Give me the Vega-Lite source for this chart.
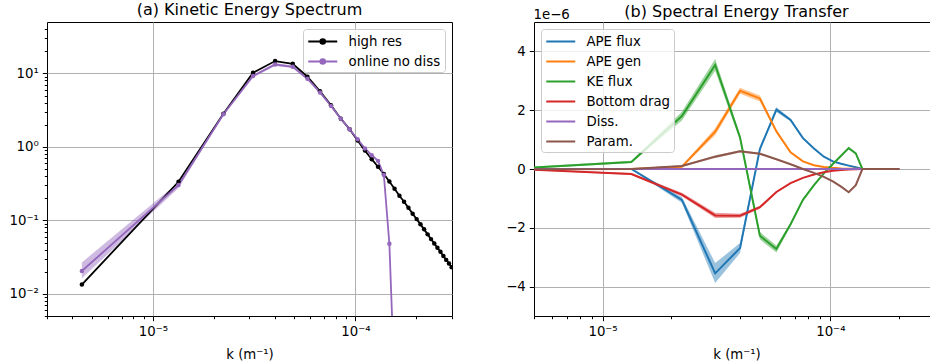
{
  "$schema": "https://vega.github.io/schema/vega-lite/v6.json",
  "padding": {"left": 8, "top": 1, "right": 0, "bottom": 0},
  "spacing": 52,
  "resolve": {"scale": {"color": "independent", "fill": "independent"}, "legend": {"color": "independent"}},
  "datasets": {
    "ke": [
      {"run":"high res","k":4.46e-6,"E":0.0134},
      {"run":"high res","k":1.338e-5,"E":0.335},
      {"run":"high res","k":2.23e-5,"E":2.83},
      {"run":"high res","k":3.122e-5,"E":10.2},
      {"run":"high res","k":4.014e-5,"E":14.7},
      {"run":"high res","k":4.906e-5,"E":13.5},
      {"run":"high res","k":5.798e-5,"E":9.0},
      {"run":"high res","k":6.69e-5,"E":5.7},
      {"run":"high res","k":7.582e-5,"E":3.68},
      {"run":"high res","k":8.474e-5,"E":2.42},
      {"run":"high res","k":9.366e-5,"E":1.74},
      {"run":"high res","k":1.0258e-4,"E":1.22},
      {"run":"high res","k":1.115e-4,"E":0.89},
      {"run":"high res","k":1.2042e-4,"E":0.68},
      {"run":"high res","k":1.2934e-4,"E":0.536},
      {"run":"high res","k":1.3826e-4,"E":0.427},
      {"run":"high res","k":1.4718e-4,"E":0.337},
      {"run":"high res","k":1.561e-4,"E":0.269},
      {"run":"high res","k":1.6502e-4,"E":0.216},
      {"run":"high res","k":1.7394e-4,"E":0.179},
      {"run":"high res","k":1.8286e-4,"E":0.148},
      {"run":"high res","k":1.9178e-4,"E":0.123},
      {"run":"high res","k":2.007e-4,"E":0.104},
      {"run":"high res","k":2.0962e-4,"E":0.0883},
      {"run":"high res","k":2.1854e-4,"E":0.0755},
      {"run":"high res","k":2.2746e-4,"E":0.0645},
      {"run":"high res","k":2.3638e-4,"E":0.0556},
      {"run":"high res","k":2.453e-4,"E":0.0484},
      {"run":"high res","k":2.5422e-4,"E":0.0425},
      {"run":"high res","k":2.6314e-4,"E":0.0373},
      {"run":"high res","k":2.7206e-4,"E":0.0327},
      {"run":"high res","k":2.8098e-4,"E":0.029},
      {"run":"high res","k":2.899e-4,"E":0.0259},
      {"run":"high res","k":2.9882e-4,"E":0.0231},
      {"run":"high res","k":3.0774e-4,"E":0.0207},
      {"run":"online no diss","k":4.46e-6,"E":0.0205,"lo":0.0163,"hi":0.0268},
      {"run":"online no diss","k":1.338e-5,"E":0.302,"lo":0.275,"hi":0.33},
      {"run":"online no diss","k":2.23e-5,"E":2.78,"lo":2.68,"hi":2.9},
      {"run":"online no diss","k":3.122e-5,"E":9.2,"lo":8.8,"hi":9.6},
      {"run":"online no diss","k":4.014e-5,"E":13.2,"lo":12.6,"hi":13.8},
      {"run":"online no diss","k":4.906e-5,"E":12.3,"lo":11.8,"hi":12.8},
      {"run":"online no diss","k":5.798e-5,"E":8.45,"lo":8.1,"hi":8.8},
      {"run":"online no diss","k":6.69e-5,"E":5.5,"lo":5.3,"hi":5.7},
      {"run":"online no diss","k":7.582e-5,"E":3.6,"lo":3.48,"hi":3.72},
      {"run":"online no diss","k":8.474e-5,"E":2.42,"lo":2.35,"hi":2.5},
      {"run":"online no diss","k":9.366e-5,"E":1.74,"lo":1.69,"hi":1.79},
      {"run":"online no diss","k":1.0258e-4,"E":1.27,"lo":1.23,"hi":1.31},
      {"run":"online no diss","k":1.115e-4,"E":0.95,"lo":0.92,"hi":0.98},
      {"run":"online no diss","k":1.2042e-4,"E":0.77,"lo":0.745,"hi":0.795},
      {"run":"online no diss","k":1.2934e-4,"E":0.645,"lo":0.625,"hi":0.665},
      {"run":"online no diss","k":1.3826e-4,"E":0.413,"lo":0.4,"hi":0.426},
      {"run":"online no diss","k":1.4718e-4,"E":0.048,"lo":0.046,"hi":0.05},
      {"run":"online no diss","k":1.561e-4,"E":0.0006,"lo":0.00055,"hi":0.00065}
    ],
    "tr": [
      {"s":"APE flux","k":4.46e-6,"v":0,"lo":-0.01,"hi":0.01},
      {"s":"APE flux","k":1.338e-5,"v":0,"lo":-0.02,"hi":0.02},
      {"s":"APE flux","k":2.23e-5,"v":-1.05,"lo":-1.15,"hi":-0.95},
      {"s":"APE flux","k":3.122e-5,"v":-3.55,"lo":-3.88,"hi":-3.2},
      {"s":"APE flux","k":4.014e-5,"v":-2.69,"lo":-2.86,"hi":-2.52},
      {"s":"APE flux","k":4.906e-5,"v":0.68,"lo":0.62,"hi":0.74},
      {"s":"APE flux","k":5.798e-5,"v":2.02,"lo":1.94,"hi":2.1},
      {"s":"APE flux","k":6.69e-5,"v":1.67,"lo":1.62,"hi":1.72},
      {"s":"APE flux","k":7.582e-5,"v":1.05,"lo":1.02,"hi":1.08},
      {"s":"APE flux","k":8.474e-5,"v":0.7,"lo":0.68,"hi":0.72},
      {"s":"APE flux","k":9.366e-5,"v":0.42,"lo":0.41,"hi":0.43},
      {"s":"APE flux","k":1.0258e-4,"v":0.26,"lo":0.25,"hi":0.27},
      {"s":"APE flux","k":1.115e-4,"v":0.18,"lo":0.17,"hi":0.19},
      {"s":"APE flux","k":1.2042e-4,"v":0.115,"lo":0.11,"hi":0.12},
      {"s":"APE flux","k":1.2934e-4,"v":0.06,"lo":0.055,"hi":0.065},
      {"s":"APE flux","k":1.3826e-4,"v":0,"lo":0,"hi":0},
      {"s":"APE flux","k":1.4718e-4,"v":0,"lo":0,"hi":0},
      {"s":"APE flux","k":1.561e-4,"v":0,"lo":0,"hi":0},
      {"s":"APE flux","k":1.6502e-4,"v":0,"lo":0,"hi":0},
      {"s":"APE flux","k":1.7394e-4,"v":0,"lo":0,"hi":0},
      {"s":"APE flux","k":1.8286e-4,"v":0,"lo":0,"hi":0},
      {"s":"APE flux","k":1.9178e-4,"v":0,"lo":0,"hi":0},
      {"s":"APE flux","k":2.007e-4,"v":0,"lo":0,"hi":0},
      {"s":"APE gen","k":4.46e-6,"v":0,"lo":-0.01,"hi":0.01},
      {"s":"APE gen","k":1.338e-5,"v":0,"lo":-0.01,"hi":0.01},
      {"s":"APE gen","k":2.23e-5,"v":0.08,"lo":0.05,"hi":0.11},
      {"s":"APE gen","k":3.122e-5,"v":1.27,"lo":1.15,"hi":1.39},
      {"s":"APE gen","k":4.014e-5,"v":2.66,"lo":2.56,"hi":2.76},
      {"s":"APE gen","k":4.906e-5,"v":2.4,"lo":2.3,"hi":2.5},
      {"s":"APE gen","k":5.798e-5,"v":1.28,"lo":1.23,"hi":1.33},
      {"s":"APE gen","k":6.69e-5,"v":0.57,"lo":0.55,"hi":0.59},
      {"s":"APE gen","k":7.582e-5,"v":0.26,"lo":0.25,"hi":0.27},
      {"s":"APE gen","k":8.474e-5,"v":0.13,"lo":0.125,"hi":0.135},
      {"s":"APE gen","k":9.366e-5,"v":0.07,"lo":0.065,"hi":0.075},
      {"s":"APE gen","k":1.0258e-4,"v":0.04,"lo":0.035,"hi":0.045},
      {"s":"APE gen","k":1.115e-4,"v":0.02,"lo":0.018,"hi":0.022},
      {"s":"APE gen","k":1.2042e-4,"v":0.01,"lo":0.009,"hi":0.011},
      {"s":"APE gen","k":1.2934e-4,"v":0.005,"lo":0.004,"hi":0.006},
      {"s":"APE gen","k":1.3826e-4,"v":0,"lo":0,"hi":0},
      {"s":"APE gen","k":1.4718e-4,"v":0,"lo":0,"hi":0},
      {"s":"APE gen","k":1.561e-4,"v":0,"lo":0,"hi":0},
      {"s":"APE gen","k":1.6502e-4,"v":0,"lo":0,"hi":0},
      {"s":"APE gen","k":1.7394e-4,"v":0,"lo":0,"hi":0},
      {"s":"APE gen","k":1.8286e-4,"v":0,"lo":0,"hi":0},
      {"s":"APE gen","k":1.9178e-4,"v":0,"lo":0,"hi":0},
      {"s":"APE gen","k":2.007e-4,"v":0,"lo":0,"hi":0},
      {"s":"KE flux","k":4.46e-6,"v":0.03,"lo":0.0,"hi":0.06},
      {"s":"KE flux","k":1.338e-5,"v":0.24,"lo":0.2,"hi":0.28},
      {"s":"KE flux","k":2.23e-5,"v":1.8,"lo":1.65,"hi":1.95},
      {"s":"KE flux","k":3.122e-5,"v":3.54,"lo":3.34,"hi":3.74},
      {"s":"KE flux","k":4.014e-5,"v":1.07,"lo":0.97,"hi":1.17},
      {"s":"KE flux","k":4.906e-5,"v":-2.27,"lo":-2.4,"hi":-2.14},
      {"s":"KE flux","k":5.798e-5,"v":-2.72,"lo":-2.84,"hi":-2.6},
      {"s":"KE flux","k":6.69e-5,"v":-1.88,"lo":-1.94,"hi":-1.82},
      {"s":"KE flux","k":7.582e-5,"v":-1.05,"lo":-1.09,"hi":-1.01},
      {"s":"KE flux","k":8.474e-5,"v":-0.55,"lo":-0.58,"hi":-0.52},
      {"s":"KE flux","k":9.366e-5,"v":-0.15,"lo":-0.17,"hi":-0.13},
      {"s":"KE flux","k":1.0258e-4,"v":0.17,"lo":0.15,"hi":0.19},
      {"s":"KE flux","k":1.115e-4,"v":0.45,"lo":0.43,"hi":0.47},
      {"s":"KE flux","k":1.2042e-4,"v":0.71,"lo":0.69,"hi":0.73},
      {"s":"KE flux","k":1.2934e-4,"v":0.53,"lo":0.51,"hi":0.55},
      {"s":"KE flux","k":1.3826e-4,"v":0,"lo":0,"hi":0},
      {"s":"KE flux","k":1.4718e-4,"v":0,"lo":0,"hi":0},
      {"s":"KE flux","k":1.561e-4,"v":0,"lo":0,"hi":0},
      {"s":"KE flux","k":1.6502e-4,"v":0,"lo":0,"hi":0},
      {"s":"KE flux","k":1.7394e-4,"v":0,"lo":0,"hi":0},
      {"s":"KE flux","k":1.8286e-4,"v":0,"lo":0,"hi":0},
      {"s":"KE flux","k":1.9178e-4,"v":0,"lo":0,"hi":0},
      {"s":"KE flux","k":2.007e-4,"v":0,"lo":0,"hi":0},
      {"s":"Bottom drag","k":4.46e-6,"v":-0.01,"lo":-0.02,"hi":0.0},
      {"s":"Bottom drag","k":1.338e-5,"v":-0.17,"lo":-0.2,"hi":-0.14},
      {"s":"Bottom drag","k":2.23e-5,"v":-0.87,"lo":-0.93,"hi":-0.81},
      {"s":"Bottom drag","k":3.122e-5,"v":-1.58,"lo":-1.67,"hi":-1.49},
      {"s":"Bottom drag","k":4.014e-5,"v":-1.59,"lo":-1.66,"hi":-1.52},
      {"s":"Bottom drag","k":4.906e-5,"v":-1.3,"lo":-1.35,"hi":-1.25},
      {"s":"Bottom drag","k":5.798e-5,"v":-0.78,"lo":-0.81,"hi":-0.75},
      {"s":"Bottom drag","k":6.69e-5,"v":-0.48,"lo":-0.5,"hi":-0.46},
      {"s":"Bottom drag","k":7.582e-5,"v":-0.3,"lo":-0.31,"hi":-0.29},
      {"s":"Bottom drag","k":8.474e-5,"v":-0.19,"lo":-0.2,"hi":-0.18},
      {"s":"Bottom drag","k":9.366e-5,"v":-0.11,"lo":-0.115,"hi":-0.105},
      {"s":"Bottom drag","k":1.0258e-4,"v":-0.06,"lo":-0.065,"hi":-0.055},
      {"s":"Bottom drag","k":1.115e-4,"v":-0.03,"lo":-0.033,"hi":-0.027},
      {"s":"Bottom drag","k":1.2042e-4,"v":-0.015,"lo":-0.017,"hi":-0.013},
      {"s":"Bottom drag","k":1.2934e-4,"v":-0.005,"lo":-0.006,"hi":-0.004},
      {"s":"Bottom drag","k":1.3826e-4,"v":0,"lo":0,"hi":0},
      {"s":"Bottom drag","k":1.4718e-4,"v":0,"lo":0,"hi":0},
      {"s":"Bottom drag","k":1.561e-4,"v":0,"lo":0,"hi":0},
      {"s":"Bottom drag","k":1.6502e-4,"v":0,"lo":0,"hi":0},
      {"s":"Bottom drag","k":1.7394e-4,"v":0,"lo":0,"hi":0},
      {"s":"Bottom drag","k":1.8286e-4,"v":0,"lo":0,"hi":0},
      {"s":"Bottom drag","k":1.9178e-4,"v":0,"lo":0,"hi":0},
      {"s":"Bottom drag","k":2.007e-4,"v":0,"lo":0,"hi":0},
      {"s":"Diss.","k":4.46e-6,"v":0,"lo":0,"hi":0},
      {"s":"Diss.","k":1.338e-5,"v":0,"lo":0,"hi":0},
      {"s":"Diss.","k":2.23e-5,"v":0,"lo":0,"hi":0},
      {"s":"Diss.","k":3.122e-5,"v":0,"lo":0,"hi":0},
      {"s":"Diss.","k":4.014e-5,"v":0,"lo":0,"hi":0},
      {"s":"Diss.","k":4.906e-5,"v":0,"lo":0,"hi":0},
      {"s":"Diss.","k":5.798e-5,"v":0,"lo":0,"hi":0},
      {"s":"Diss.","k":6.69e-5,"v":0,"lo":0,"hi":0},
      {"s":"Diss.","k":7.582e-5,"v":0,"lo":0,"hi":0},
      {"s":"Diss.","k":8.474e-5,"v":0,"lo":0,"hi":0},
      {"s":"Diss.","k":9.366e-5,"v":0,"lo":0,"hi":0},
      {"s":"Diss.","k":1.0258e-4,"v":0,"lo":0,"hi":0},
      {"s":"Diss.","k":1.115e-4,"v":0,"lo":0,"hi":0},
      {"s":"Diss.","k":1.2042e-4,"v":0,"lo":0,"hi":0},
      {"s":"Diss.","k":1.2934e-4,"v":0,"lo":0,"hi":0},
      {"s":"Diss.","k":1.3826e-4,"v":0,"lo":0,"hi":0},
      {"s":"Diss.","k":1.4718e-4,"v":0,"lo":0,"hi":0},
      {"s":"Diss.","k":1.561e-4,"v":0,"lo":0,"hi":0},
      {"s":"Diss.","k":1.6502e-4,"v":0,"lo":0,"hi":0},
      {"s":"Diss.","k":1.7394e-4,"v":0,"lo":0,"hi":0},
      {"s":"Diss.","k":1.8286e-4,"v":0,"lo":0,"hi":0},
      {"s":"Diss.","k":1.9178e-4,"v":0,"lo":0,"hi":0},
      {"s":"Diss.","k":2.007e-4,"v":0,"lo":0,"hi":0},
      {"s":"Param.","k":4.46e-6,"v":-0.01,"lo":-0.02,"hi":0.0},
      {"s":"Param.","k":1.338e-5,"v":0,"lo":-0.01,"hi":0.01},
      {"s":"Param.","k":2.23e-5,"v":0.1,"lo":0.07,"hi":0.13},
      {"s":"Param.","k":3.122e-5,"v":0.42,"lo":0.37,"hi":0.47},
      {"s":"Param.","k":4.014e-5,"v":0.6,"lo":0.56,"hi":0.64},
      {"s":"Param.","k":4.906e-5,"v":0.52,"lo":0.49,"hi":0.55},
      {"s":"Param.","k":5.798e-5,"v":0.33,"lo":0.31,"hi":0.35},
      {"s":"Param.","k":6.69e-5,"v":0.16,"lo":0.15,"hi":0.17},
      {"s":"Param.","k":7.582e-5,"v":0.0,"lo":-0.01,"hi":0.01},
      {"s":"Param.","k":8.474e-5,"v":-0.13,"lo":-0.14,"hi":-0.12},
      {"s":"Param.","k":9.366e-5,"v":-0.27,"lo":-0.28,"hi":-0.26},
      {"s":"Param.","k":1.0258e-4,"v":-0.42,"lo":-0.43,"hi":-0.41},
      {"s":"Param.","k":1.115e-4,"v":-0.6,"lo":-0.61,"hi":-0.59},
      {"s":"Param.","k":1.2042e-4,"v":-0.79,"lo":-0.8,"hi":-0.78},
      {"s":"Param.","k":1.2934e-4,"v":-0.55,"lo":-0.56,"hi":-0.54},
      {"s":"Param.","k":1.3826e-4,"v":0,"lo":0,"hi":0},
      {"s":"Param.","k":1.4718e-4,"v":0,"lo":0,"hi":0},
      {"s":"Param.","k":1.561e-4,"v":0,"lo":0,"hi":0},
      {"s":"Param.","k":1.6502e-4,"v":0,"lo":0,"hi":0},
      {"s":"Param.","k":1.7394e-4,"v":0,"lo":0,"hi":0},
      {"s":"Param.","k":1.8286e-4,"v":0,"lo":0,"hi":0},
      {"s":"Param.","k":1.9178e-4,"v":0,"lo":0,"hi":0},
      {"s":"Param.","k":2.007e-4,"v":0,"lo":0,"hi":0}
    ]
  },
  "hconcat": [
    {
      "width": 405,
      "height": 294,
      "title": {"text": "(a) Kinetic Energy Spectrum", "frame": "group", "offset": 3.7},
      "layer": [
        {
          "data": {"name": "ke"},
          "transform": [{"filter": "datum.run == 'online no diss'"}],
          "mark": {"type": "area", "opacity": 0.45, "clip": true, "color": "#9467bd"},
          "encoding": {
            "x": {"field": "k", "type": "quantitative", "scale": {"type": "log", "domain": [3e-6, 3e-4], "nice": false},
              "axis": {"title": "k (m⁻¹)", "values": [3e-6,4e-6,5e-6,6e-6,7e-6,8e-6,9e-6,1e-5,2e-5,3e-5,4e-5,5e-5,6e-5,7e-5,8e-5,9e-5,1e-4,2e-4,3e-4],
                "labelExpr": "abs(log(datum.value)/LN10 - round(log(datum.value)/LN10)) < 0.001 ? ['10⁻⁵','10⁻⁴'][round(log(datum.value)/LN10)+5] : ''",
                "tickSize": {"condition": {"test": "abs(log(datum.value)/LN10 - round(log(datum.value)/LN10)) < 0.001", "value": 4.7}, "value": 2.7},
                "gridOpacity": {"condition": {"test": "abs(log(datum.value)/LN10 - round(log(datum.value)/LN10)) < 0.001", "value": 1}, "value": 0}}},
            "y": {"field": "lo", "type": "quantitative", "scale": {"type": "log", "domain": [0.005, 50], "nice": false},
              "axis": {"title": null, "values": [0.005,0.006,0.007,0.008,0.009,0.01,0.02,0.03,0.04,0.05,0.06,0.07,0.08,0.09,0.1,0.2,0.3,0.4,0.5,0.6,0.7,0.8,0.9,1,2,3,4,5,6,7,8,9,10,20,30,40],
                "labelExpr": "abs(log(datum.value)/LN10 - round(log(datum.value)/LN10)) < 0.001 ? ['10⁻²','10⁻¹','10⁰','10¹'][round(log(datum.value)/LN10)+2] : ''",
                "tickSize": {"condition": {"test": "abs(log(datum.value)/LN10 - round(log(datum.value)/LN10)) < 0.001", "value": 4.7}, "value": 2.7},
                "gridOpacity": {"condition": {"test": "abs(log(datum.value)/LN10 - round(log(datum.value)/LN10)) < 0.001", "value": 1}, "value": 0}}},
            "y2": {"field": "hi"}
          }
        },
        {
          "data": {"name": "ke"},
          "mark": {"type": "line", "strokeWidth": 1.8, "clip": true, "point": {"filled": true, "size": 20, "clip": true}},
          "encoding": {
            "x": {"field": "k", "type": "quantitative"},
            "y": {"field": "E", "type": "quantitative"},
            "color": {"field": "run", "type": "nominal", "scale": {"domain": ["high res", "online no diss"], "range": ["#000000", "#9467bd"]},
              "legend": {"title": null, "orient": "top-right", "offset": 7,
                "symbolType": "M-1,0L3,0M1.32,0A0.32,0.32,0,1,1,0.68,0A0.32,0.32,0,1,1,1.32,0Z",
                "symbolSize": 210, "symbolStrokeWidth": 2, "labelOffset": 24.5, "rowPadding": 5,
                "encode": {"symbols": {"update": {"fill": {"signal": "datum.value == 'high res' ? '#000000' : '#9467bd'"}, "stroke": {"signal": "datum.value == 'high res' ? '#000000' : '#9467bd'"}, "opacity": {"value": 1}}}}}}
          }
        }
      ]
    },
    {
      "width": 405,
      "height": 294,
      "title": {"text": "(b) Spectral Energy Transfer", "frame": "group", "offset": -13.3},
      "layer": [
        {
          "data": {"name": "tr"},
          "mark": {"type": "area", "opacity": 0.45, "clip": true},
          "encoding": {
            "x": {"field": "k", "type": "quantitative", "scale": {"type": "log", "domain": [5e-6, 3e-4], "nice": false},
              "axis": {"title": "k (m⁻¹)", "values": [5e-6,6e-6,7e-6,8e-6,9e-6,1e-5,2e-5,3e-5,4e-5,5e-5,6e-5,7e-5,8e-5,9e-5,1e-4,2e-4,3e-4],
                "labelExpr": "abs(log(datum.value)/LN10 - round(log(datum.value)/LN10)) < 0.001 ? ['10⁻⁵','10⁻⁴'][round(log(datum.value)/LN10)+5] : ''",
                "tickSize": {"condition": {"test": "abs(log(datum.value)/LN10 - round(log(datum.value)/LN10)) < 0.001", "value": 4.7}, "value": 2.7},
                "gridOpacity": {"condition": {"test": "abs(log(datum.value)/LN10 - round(log(datum.value)/LN10)) < 0.001", "value": 1}, "value": 0}}},
            "y": {"field": "lo", "type": "quantitative", "scale": {"domain": [-5, 5], "nice": false, "zero": false},
              "axis": {"values": [-4, -2, 0, 2, 4], "title": "1e−6", "titleAngle": 0, "titleAlign": "left", "titleBaseline": "alphabetic", "titleX": -1, "titleY": -4}},
            "y2": {"field": "hi"},
            "fill": {"field": "s", "type": "nominal", "legend": null,
              "scale": {"domain": ["Param.", "Diss.", "Bottom drag", "KE flux", "APE gen", "APE flux"], "range": ["#8c564b", "#9467bd", "#d62728", "#2ca02c", "#ff7f0e", "#1f77b4"]}}
          }
        },
        {
          "data": {"name": "tr"},
          "mark": {"type": "line", "strokeWidth": 2, "clip": true},
          "encoding": {
            "x": {"field": "k", "type": "quantitative"},
            "y": {"field": "v", "type": "quantitative"},
            "color": {"field": "s", "type": "nominal",
              "scale": {"domain": ["APE flux", "APE gen", "KE flux", "Bottom drag", "Diss.", "Param."], "range": ["#1f77b4", "#ff7f0e", "#2ca02c", "#d62728", "#9467bd", "#8c564b"]},
              "legend": {"title": null, "orient": "top-left", "offset": 7, "symbolType": "M-1,0L3,0", "symbolSize": 210, "symbolStrokeWidth": 2, "labelOffset": 24.5, "rowPadding": 5}}
          }
        }
      ]
    }
  ],
  "config": {
    "font": "DejaVu Sans",
    "view": {"stroke": "#000000", "strokeWidth": 1},
    "axis": {"domain": false, "labelFont": "DejaVu Sans", "labelFontSize": 13.3, "labelColor": "#000000", "tickColor": "#000000", "tickWidth": 1, "tickSize": 4.7, "labelPadding": 4, "grid": true, "gridColor": "#b0b0b0", "gridWidth": 1, "titleFont": "DejaVu Sans", "titleFontSize": 13.3, "titleFontWeight": "normal", "titleColor": "#000000", "titlePadding": 9, "labelOverlap": false, "labelFlush": false},
    "title": {"font": "DejaVu Sans", "fontSize": 16, "fontWeight": "normal", "color": "#000000"},
    "legend": {"labelFont": "DejaVu Sans", "labelFontSize": 13.3, "labelColor": "#000000", "padding": 4, "fillColor": "rgba(255,255,255,0.8)", "strokeColor": "#cccccc", "cornerRadius": 3, "labelLimit": 300}
  }
}
